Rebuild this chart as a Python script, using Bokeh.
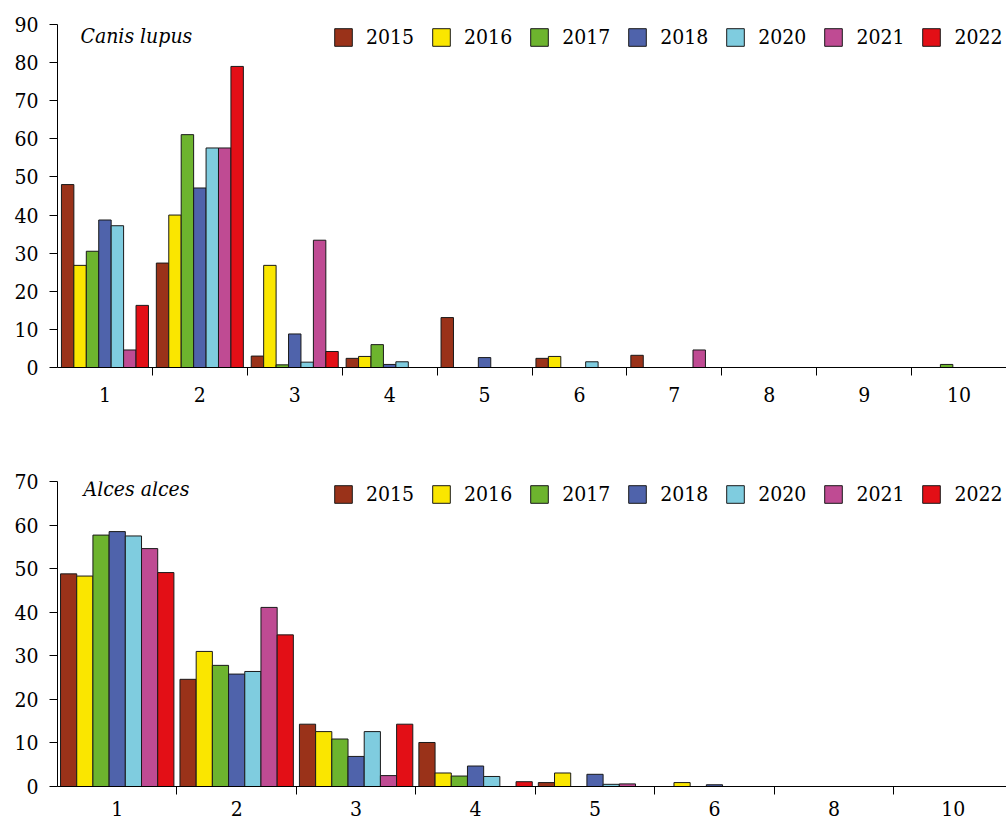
import numpy as np
from bokeh.plotting import figure
from bokeh.layouts import column
from bokeh.models import FixedTicker, Label, ColumnDataSource
from bokeh.transform import dodge
from bokeh.embed import file_html
from bokeh.resources import INLINE

# ---------------- data ----------------
years = ["2015", "2016", "2017", "2018", "2020", "2021", "2022"]
colors = ["#9A3219", "#FAE600", "#6DB42E", "#4F63AB", "#7FCCDF", "#BF4B93", "#E30F16"]

canis_cats = ["1", "2", "3", "4", "5", "6", "7", "8", "9", "10"]
canis_2015 = [48.0, 27.4, 3.0, 2.4, 13.1, 2.4, 3.2, 0, 0, 0]
canis_2016 = [26.8, 40.0, 26.8, 2.9, 0, 2.9, 0, 0, 0, 0]
canis_2017 = [30.5, 61.1, 0.7, 6.0, 0, 0, 0, 0, 0, 0.8]
canis_2018 = [38.7, 47.1, 8.8, 0.8, 2.6, 0, 0, 0, 0, 0]
canis_2020 = [37.2, 57.6, 1.4, 1.5, 0, 1.5, 0, 0, 0, 0]
canis_2021 = [4.6, 57.6, 33.4, 0, 0, 0, 4.6, 0, 0, 0]
canis_2022 = [16.3, 79.0, 4.2, 0, 0, 0, 0, 0, 0, 0]

alces_cats = ["1", "2", "3", "4", "5", "6", "8", "10"]
alces_2015 = [48.8, 24.6, 14.3, 10.1, 0.9, 0, 0, 0]
alces_2016 = [48.3, 31.0, 12.6, 3.1, 3.1, 0.9, 0, 0]
alces_2017 = [57.7, 27.8, 10.9, 2.4, 0, 0, 0, 0]
alces_2018 = [58.5, 25.8, 6.9, 4.7, 2.8, 0.4, 0, 0]
alces_2020 = [57.5, 26.4, 12.6, 2.3, 0.5, 0, 0, 0]
alces_2021 = [54.6, 41.1, 2.5, 0, 0.6, 0, 0, 0]
alces_2022 = [49.1, 34.8, 14.3, 1.1, 0, 0, 0, 0]

canis_series = [canis_2015, canis_2016, canis_2017, canis_2018, canis_2020, canis_2021, canis_2022]
alces_series = [alces_2015, alces_2016, alces_2017, alces_2018, alces_2020, alces_2021, alces_2022]

FONT = "DejaVu Serif Condensed"
FS = "21px"


def panel(cats, series, ymax, name, fh, top_b, bot_b, xend, bw, std, tx, ty, leg_loc):
    n = len(cats)
    p = figure(frame_width=949, frame_height=fh, min_border_left=57, min_border_right=0,
               min_border_top=top_b, min_border_bottom=bot_b,
               x_range=(0, xend), y_range=(0, ymax),
               output_backend="svg", toolbar_location=None, tools="")
    p.outline_line_color = None
    p.grid.visible = False
    p.background_fill_color = "white"

    data = {"x": [float(v) for v in np.arange(n) + 0.5]}
    for yr, vals in zip(years, series):
        data[yr] = vals
    src = ColumnDataSource(data)
    for i, (yr, c) in enumerate(zip(years, colors)):
        p.vbar(x=dodge("x", (i - 3) * bw, range=p.x_range), top=yr, bottom=0, width=bw,
               source=src, fill_color=c, line_color="#1a1a1a", line_width=1,
               legend_label=yr)

    xa = p.xaxis[0]
    xa.ticker = FixedTicker(ticks=[float(v) for v in np.arange(n) + 0.5],
                            minor_ticks=[float(v) for v in range(1, n + 1)])
    xa.major_label_overrides = {float(k + 0.5): c for k, c in enumerate(cats)}
    xa.major_tick_out = 0
    xa.major_tick_in = 0
    xa.minor_tick_out = 8
    xa.minor_tick_in = 0
    xa.minor_tick_line_color = "black"
    xa.axis_line_color = "black"
    xa.major_label_standoff = std
    xa.major_label_text_font = FONT
    xa.major_label_text_font_size = FS
    xa.major_label_text_color = "black"

    ya = p.yaxis[0]
    ya.ticker = FixedTicker(ticks=list(range(0, ymax + 1, 10)))
    ya.major_tick_out = 8
    ya.major_tick_in = 0
    ya.minor_tick_line_color = None
    ya.axis_line_color = "black"
    ya.major_tick_line_color = "black"
    ya.major_label_standoff = 11
    ya.major_label_text_font = FONT
    ya.major_label_text_font_size = FS
    ya.major_label_text_color = "black"

    lg = p.legend[0]
    lg.orientation = "horizontal"
    lg.location = leg_loc
    lg.border_line_color = None
    lg.background_fill_alpha = 0
    lg.margin = 0
    lg.padding = 0
    lg.spacing = 16
    lg.glyph_width = 22
    lg.glyph_height = 22
    lg.label_standoff = 12
    lg.label_text_font = FONT
    lg.label_text_font_size = FS
    lg.label_text_color = "black"

    p.add_layout(Label(x=tx, y=ty, text=name, text_font=FONT, text_font_style="italic",
                       text_font_size=FS, text_baseline="alphabetic", text_color="black"))
    return p


p1 = panel(canis_cats, canis_series, 90, "Canis lupus", 343, 24, 98, 10, 0.131, 11, 0.242, 87.0, (275, 318))
p2 = panel(alces_cats, alces_series, 70, "Alces alces", 305, 16, 34, 7.945, 0.1356, 6, 0.218, 68.2, (275, 280))

layout = column(p1, p2, spacing=0)
open("out.html", "w").write(file_html(layout, INLINE))
